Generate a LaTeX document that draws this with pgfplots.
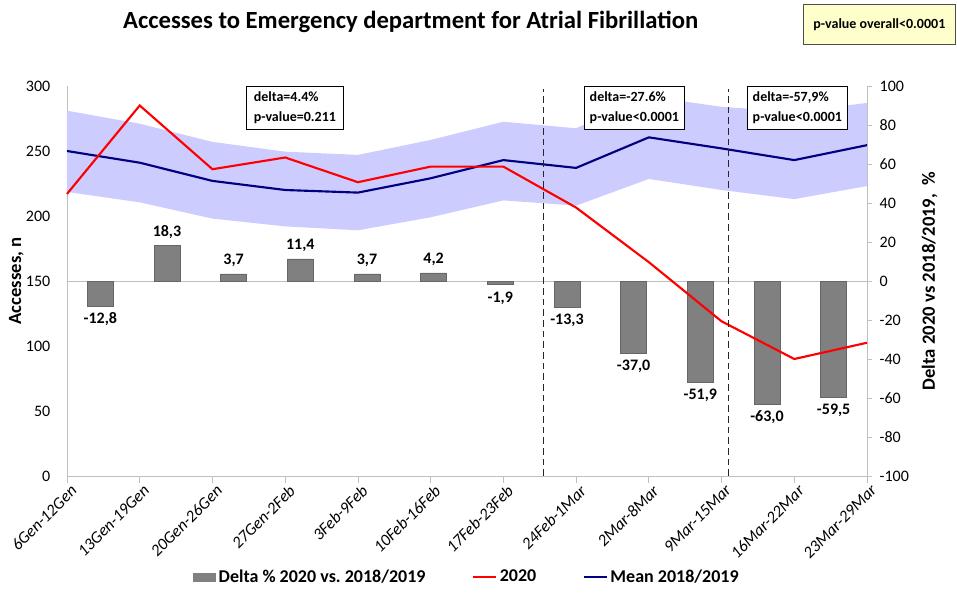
\documentclass[border=0pt]{standalone}
\usepackage{pgfplots}
\pgfplotsset{compat=1.18}
\usepackage{fontspec}
\setmainfont{Carlito}
\definecolor{band}{RGB}{204,204,255}
\definecolor{navy}{RGB}{0,0,128}
\definecolor{barg}{RGB}{128,128,128}
\definecolor{axg}{RGB}{191,191,191}
\definecolor{boxy}{RGB}{255,255,204}
\begin{document}
\begin{tikzpicture}
\useasboundingbox (0,0) rectangle (717.75pt,461.25pt);
% bars axis (right)
\begin{axis}[
  at={(50.25pt,104.25pt)}, anchor=south west,
  width=600pt, height=292.5pt, scale only axis,
  xmin=0, xmax=12, ymin=-100, ymax=100,
  axis x line=none,
  axis y line*=right,
  y axis line style={draw=axg, line width=0.6pt},
  ytick={-100,-80,...,100},
  tick style={draw=axg, line width=0.6pt},
  major tick length=4pt,
  tick align=outside,
  yticklabel style={font=\fontsize{12}{14}\selectfont, xshift=2pt},
  /pgf/number format/assume math mode=true,
  ylabel={\bfseries Delta 2020 vs 2018/2019,~ \%},
  every axis y label/.style={at={(rel axis cs:1,0.5)}, xshift=47pt, rotate=90, anchor=center, font=\fontsize{14}{16}\selectfont},
  clip=false,
  ybar, bar width=19.5pt, bar shift=0pt,
]
\draw[axg, line width=0.6pt] (axis cs:0,0) -- (axis cs:12,0);
\addplot[fill=barg, draw=barg!80!black, line width=0.4pt,
  point meta=explicit symbolic,
  nodes near coords,
  every node near coord/.append style={font=\bfseries\fontsize{12}{14}\selectfont, black, anchor=south, inner sep=5pt}]
coordinates {
(1.5,18.3) [18,3]
(2.5,3.7) [3,7]
(3.5,11.4) [11,4]
(4.5,3.7) [3,7]
(5.5,4.2) [4,2]
};
\addplot[fill=barg, draw=barg!80!black, line width=0.4pt,
  point meta=explicit symbolic,
  nodes near coords,
  every node near coord/.append style={font=\bfseries\fontsize{12}{14}\selectfont, black, anchor=north, inner sep=5pt}]
coordinates {
(0.5,-12.8) [-12,8]
(6.5,-1.9) [-1,9]
(7.5,-13.3) [-13,3]
(8.5,-37.0) [-37,0]
(9.5,-51.9) [-51,9]
(10.5,-63.0) [-63,0]
(11.5,-59.5) [-59,5]
};
\end{axis}
% lines axis (left)
\begin{axis}[
  at={(50.25pt,104.25pt)}, anchor=south west,
  width=600pt, height=292.5pt, scale only axis,
  xmin=0, xmax=11, ymin=0, ymax=300,
  axis x line*=bottom, axis y line*=left,
  axis line style={draw=axg, line width=0.6pt},
  x axis line style={-}, y axis line style={-},
  ytick={0,50,...,300},
  xtick={0,...,11},
  xticklabels={6Gen-12Gen,13Gen-19Gen,20Gen-26Gen,27Gen-2Feb,3Feb-9Feb,10Feb-16Feb,17Feb-23Feb,24Feb-1Mar,2Mar-8Mar,9Mar-15Mar,16Mar-22Mar,23Mar-29Mar},
  xticklabel style={font=\itshape\fontsize{12.5}{14}\selectfont, rotate=45, anchor=north east, inner sep=2pt, xshift=3pt},
  yticklabel style={font=\fontsize{12}{14}\selectfont, xshift=-4pt},
  /pgf/number format/assume math mode=true,
  x tick style={draw=axg, line width=0.6pt},
  y tick style={draw=none},
  major tick length=5pt,
  tick align=outside,
  ylabel={\bfseries Accesses, n},
  every axis y label/.style={at={(rel axis cs:0,0.5)}, xshift=-38pt, rotate=90, anchor=center, font=\fontsize{14}{16}\selectfont},
  clip=false,
  legend columns=3,
  legend style={at={(0.5,-0.259)}, anchor=center, draw=none, fill=none,
    font=\bfseries\fontsize{13.5}{16}\selectfont,
    /tikz/every even column/.append style={column sep=33pt}},
  legend cell align=left,
]
\addlegendimage{area legend, fill=barg, draw=barg}
\addlegendentry{Delta \% 2020 vs.\ 2018/2019}
\addplot[fill=band, draw=none, forget plot] coordinates {
(0,281) (1,271) (2,257) (3,249.5) (4,247) (5,258.5) (6,272.5) (7,267.5) (8,292) (9,284) (10,280) (11,287)
(11,223) (10,213) (9,220) (8,228.5) (7,208) (6,212) (5,199) (4,189) (3,192) (2,198) (1,210.5) (0,218.5)
} -- cycle;
\addplot[navy, line width=1.6pt, forget plot] coordinates {
(0,250) (1,241) (2,227) (3,220) (4,218) (5,229) (6,243) (7,237) (8,260.5) (9,252) (10,243) (11,254.5)
};
\addplot[red, line width=1.6pt] coordinates {
(0,217) (1,285) (2,236) (3,245) (4,226) (5,238) (6,238) (7,206.5) (8,164.5) (9,119) (10,90) (11,102.5)
};
\addlegendentry{2020}
\addlegendimage{navy, line width=1.6pt}
\addlegendentry{Mean 2018/2019}
\draw[black!85, dash pattern=on 5pt off 3pt, line width=0.7pt] (axis cs:6.55,0) -- (axis cs:6.55,298);
\draw[black!85, dash pattern=on 5pt off 3pt, line width=0.7pt] (axis cs:9.1,0) -- (axis cs:9.1,298);
\end{axis}
% text boxes
\node[draw, line width=0.6pt, fill=white, align=left, anchor=north west, font=\bfseries\fontsize{10.5}{15}\selectfont, inner xsep=4pt, inner ysep=3pt, minimum width=72.75pt, minimum height=32pt] at (184.5pt,396.75pt) {delta=4.4\%\\p-value=0.211};
\node[draw, line width=0.6pt, fill=white, align=left, anchor=north west, font=\bfseries\fontsize{10.5}{15}\selectfont, inner xsep=4pt, inner ysep=3pt, minimum width=73.5pt, minimum height=32pt] at (438pt,396.75pt) {delta=-27.6\%\\p-value<0.0001};
\node[draw, line width=0.6pt, fill=white, align=left, anchor=north west, font=\bfseries\fontsize{10.5}{15}\selectfont, inner xsep=4pt, inner ysep=3pt, minimum width=74.25pt, minimum height=32pt] at (560.25pt,396.75pt) {delta=-57,9\%\\p-value<0.0001};
\node[draw=black!70, line width=0.6pt, fill=boxy, anchor=north west, font=\bfseries\fontsize{10.5}{13}\selectfont, minimum width=114pt, minimum height=30pt] at (602.25pt,458.25pt) {p-value overall<0.0001};
\node[font=\bfseries\fontsize{18.5}{22}\selectfont] at (308pt,444.75pt) {Accesses to Emergency department for Atrial Fibrillation};
\end{tikzpicture}
\end{document}
